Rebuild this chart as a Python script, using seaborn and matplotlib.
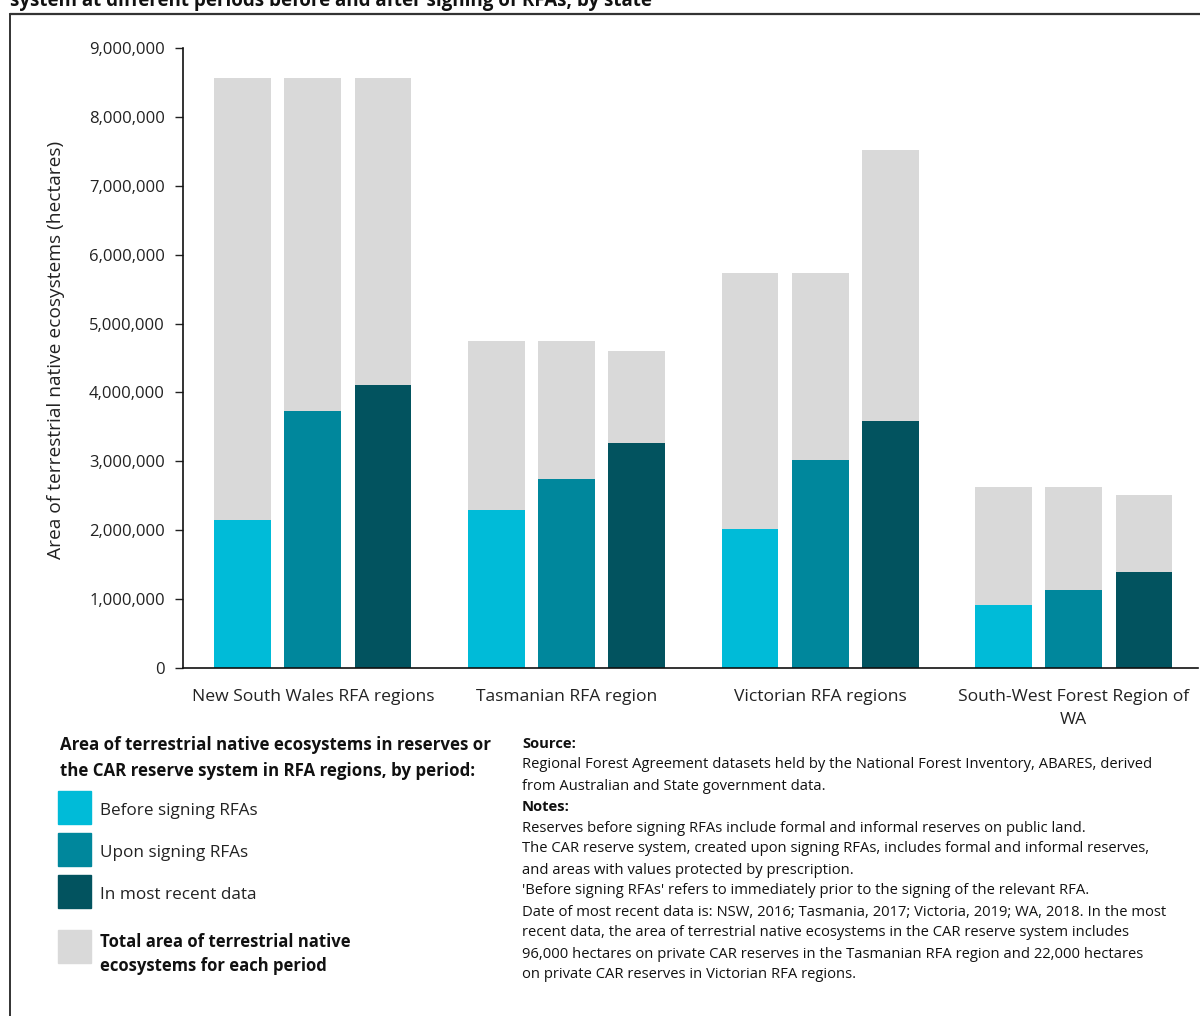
import matplotlib
matplotlib.use("Agg")
import matplotlib.pyplot as plt
from matplotlib.lines import Line2D
from matplotlib.patches import Rectangle
from matplotlib.ticker import FuncFormatter
import pandas as pd
import seaborn as sns

sns.set_style("ticks")
plt.rcParams["font.family"] = ["Open Sans", "DejaVu Sans"]

# ------------------------------------------------------------------ #
# Data (hectares)
# ------------------------------------------------------------------ #
regions = [
    "New South Wales RFA regions",
    "Tasmanian RFA region",
    "Victorian RFA regions",
    "South-West Forest Region of\nWA",
]
periods = ["Before signing RFAs", "Upon signing RFAs", "In most recent data"]

total_before = [8565000, 4747000, 5734000, 2627000]
total_upon = [8565000, 4747000, 5734000, 2627000]
total_recent = [8565000, 4600000, 7519000, 2511000]

reserve_before = [2148000, 2293000, 2018000, 915000]
reserve_upon = [3730000, 2743000, 3019000, 1132000]
reserve_recent = [4108000, 3266000, 3585000, 1394000]

period_colors = ["#00BBD8", "#00879C", "#02535F"]
total_color = "#D9D9D9"

rows = []
for i, region in enumerate(regions):
    for period, tot, res in zip(
        periods,
        [total_before, total_upon, total_recent],
        [reserve_before, reserve_upon, reserve_recent],
    ):
        rows.append({"region": region, "period": period, "total": tot[i], "reserve": res[i]})
df = pd.DataFrame(rows)

# ------------------------------------------------------------------ #
# Figure
# ------------------------------------------------------------------ #
fig = plt.figure(figsize=(12, 10.16), dpi=100)
ax = fig.add_axes([0.1525, 0.3425, 0.8455, 0.6103])

bar_kw = dict(data=df, x="region", hue="period", hue_order=periods, order=regions,
              width=0.83, gap=0.19, legend=False, ax=ax, edgecolor="none",
              errorbar=None, saturation=1)
sns.barplot(y="total", palette=[total_color] * 3, **bar_kw)
sns.barplot(y="reserve", palette=period_colors, **bar_kw)

ax.set_ylim(0, 9000000)
ax.set_xlim(-0.512, 3.488)
ax.set_yticks(range(0, 9000001, 1000000))
ax.yaxis.set_major_formatter(FuncFormatter(lambda v, _: f"{int(v):,}"))
ax.set_xlabel("")
ax.set_ylabel("Area of terrestrial native ecosystems (hectares)", fontsize=13.8, color="#222222")
ax.yaxis.set_label_coords(-0.116, 0.513)
ax.tick_params(axis="y", length=6, width=1, labelsize=12, pad=7, colors="#222222")
ax.tick_params(axis="x", length=0, labelsize=12.6, pad=15, colors="#222222")
for lab in ax.get_xticklabels():
    lab.set_linespacing(1.6)
for side in ["top", "right"]:
    ax.spines[side].set_visible(False)
for side in ["left", "bottom"]:
    ax.spines[side].set_color("#111111")
    ax.spines[side].set_linewidth(1.2)

# title (cut off at the top in the source)
fig.text(0.008, 1 - 6 / 1016, "system at different periods before and after signing of RFAs, by state",
         fontsize=13.5, fontweight="bold", va="baseline", ha="left", color="#111111")

# frame lines
fig.add_artist(Line2D([10 / 1200, 1.0], [1 - 14 / 1016] * 2, color="#333333", lw=1.6))
fig.add_artist(Line2D([10 / 1200] * 2, [0.0, 1 - 14 / 1016], color="#333333", lw=1.4))

# ------------------------------------------------------------------ #
# Legend block
# ------------------------------------------------------------------ #
def fx(px):
    return px / 1200


def fy(py):
    return 1 - py / 1016


fig.text(fx(60), fy(758), "Area of terrestrial native ecosystems in reserves or\nthe CAR reserve system in RFA regions, by period:",
         fontsize=12.2, fontweight="bold", va="center", ha="left", linespacing=1.5, color="#111111")

legend_items = [(periods[0], period_colors[0], 807), (periods[1], period_colors[1], 849),
                (periods[2], period_colors[2], 891)]
for label, color, yc in legend_items:
    fig.add_artist(Rectangle((fx(58), fy(yc + 16.5)), 33 / 1200, 33 / 1016, color=color,
                             transform=fig.transFigure))
    fig.text(fx(100), fy(yc + 4), label, fontsize=12.3, va="center", ha="left", color="#222222")

fig.add_artist(Rectangle((fx(58), fy(963)), 33 / 1200, 33 / 1016, color=total_color,
                         transform=fig.transFigure))
fig.text(fx(100), fy(954), "Total area of terrestrial native\necosystems for each period",
         fontsize=12, fontweight="bold", va="center", ha="left", linespacing=1.45, color="#111111")

# ------------------------------------------------------------------ #
# Source / notes
# ------------------------------------------------------------------ #
notes = [
    ("Source:", True),
    ("Regional Forest Agreement datasets held by the National Forest Inventory, ABARES, derived", False),
    ("from Australian and State government data.", False),
    ("Notes:", True),
    ("Reserves before signing RFAs include formal and informal reserves on public land.", False),
    ("The CAR reserve system, created upon signing RFAs, includes formal and informal reserves,", False),
    ("and areas with values protected by prescription.", False),
    ("'Before signing RFAs' refers to immediately prior to the signing of the relevant RFA.", False),
    ("Date of most recent data is: NSW, 2016; Tasmania, 2017; Victoria, 2019; WA, 2018. In the most", False),
    ("recent data, the area of terrestrial native ecosystems in the CAR reserve system includes", False),
    ("96,000 hectares on private CAR reserves in the Tasmanian RFA region and 22,000 hectares", False),
    ("on private CAR reserves in Victorian RFA regions.", False),
]
for k, (line, bold) in enumerate(notes):
    fig.text(fx(522), fy(744 + k * 21), line, fontsize=10.6, fontweight="bold" if bold else "normal",
             va="center", ha="left", color="#111111")

fig.savefig("out.png", dpi=100)
